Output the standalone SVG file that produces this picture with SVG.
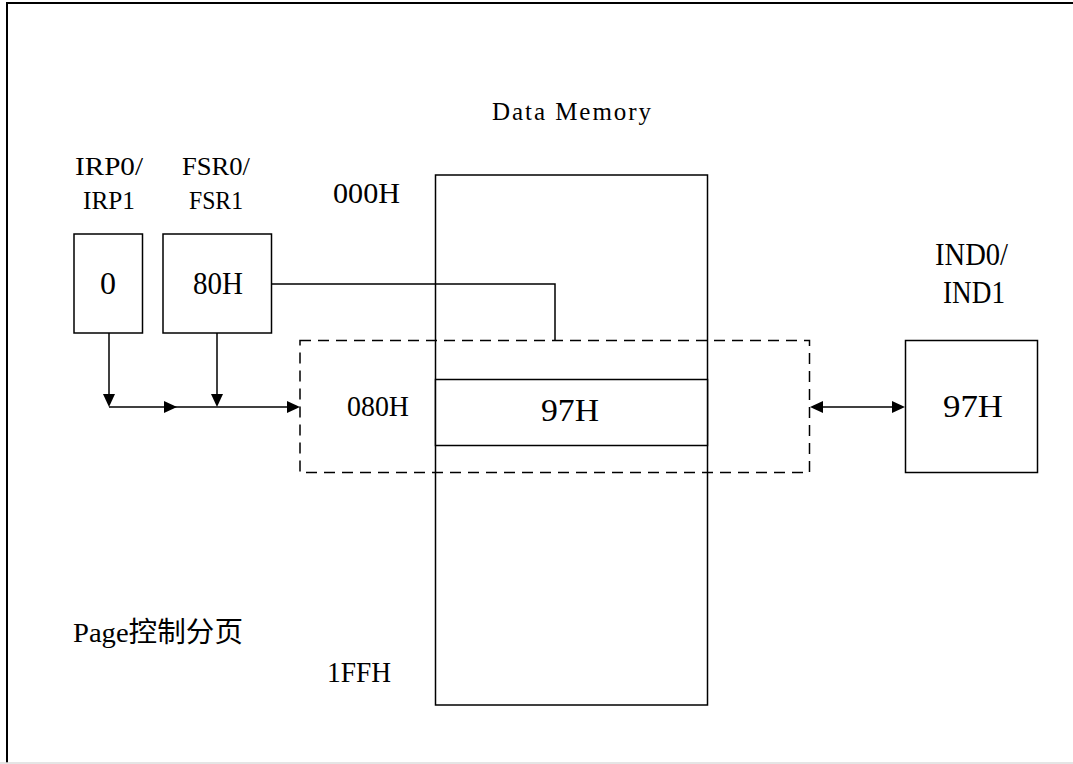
<svg xmlns="http://www.w3.org/2000/svg" width="1073" height="764" viewBox="0 0 1073 764">
<style>
.ln{stroke:#000;stroke-width:1.5;fill:none}
.box{stroke:#000;stroke-width:1.5;fill:#fff}
.dash{stroke:#000;stroke-width:1.5;fill:none;stroke-dasharray:11 7}
.ah{fill:#000}
.t{font-family:"Liberation Serif","Noto Sans CJK SC",serif;fill:#000}
.m{font-family:"Liberation Serif","Noto Sans CJK SC",serif;fill:#000}
</style>
<rect width="1073" height="764" fill="#fff"/>
<g id="frame">
<line x1="7" y1="2" x2="7" y2="763" stroke="#000" stroke-width="2"/>
<line x1="6" y1="3" x2="1073" y2="3" stroke="#000" stroke-width="2"/>
<line x1="0" y1="763" x2="1073" y2="763" stroke="#ddd" stroke-width="1.5"/>
</g>
<g id="title"><text class="m" x="492" y="120" font-size="25" textLength="159" lengthAdjust="spacing">Data Memory</text></g>
<g id="memory">
<rect class="box" x="435.5" y="175" width="272" height="530"/>
</g>
<g id="dashed-page">
<rect class="dash" x="300" y="340.5" width="509.5" height="132"/>
</g>
<g id="row-97H">
<rect class="box" x="435.5" y="379.5" width="272" height="66"/>
<text class="m" x="541" y="421" font-size="31" textLength="58" lengthAdjust="spacingAndGlyphs">97H</text>
</g>
<g id="irp">
<text class="m" x="75" y="175" font-size="26" textLength="68" lengthAdjust="spacingAndGlyphs">IRP0/</text>
<text class="m" x="83" y="209" font-size="26" textLength="52" lengthAdjust="spacingAndGlyphs">IRP1</text>
<rect class="box" x="74" y="234" width="68.5" height="99"/>
<text class="m" x="108" y="294" font-size="32" text-anchor="middle">0</text>
</g>
<g id="fsr">
<text class="m" x="182" y="175" font-size="26" textLength="68" lengthAdjust="spacingAndGlyphs">FSR0/</text>
<text class="m" x="189" y="209" font-size="26" textLength="54" lengthAdjust="spacingAndGlyphs">FSR1</text>
<rect class="box" x="163" y="234" width="108.5" height="99"/>
<text class="m" x="193" y="294" font-size="32" textLength="50" lengthAdjust="spacingAndGlyphs">80H</text>
</g>
<g id="ind">
<text class="m" x="935" y="265" font-size="31" textLength="73" lengthAdjust="spacingAndGlyphs">IND0/</text>
<text class="m" x="943" y="303" font-size="31" textLength="62" lengthAdjust="spacingAndGlyphs">IND1</text>
<rect class="box" x="905.5" y="340.5" width="132" height="132"/>
<text class="t" x="943" y="417" font-size="31" textLength="60" lengthAdjust="spacingAndGlyphs">97H</text>
</g>
<g id="labels">
<text class="t" x="333" y="203" font-size="29" textLength="67" lengthAdjust="spacingAndGlyphs">000H</text>
<text class="t" x="347" y="416" font-size="29" textLength="62" lengthAdjust="spacingAndGlyphs">080H</text>
<text class="t" x="327" y="682" font-size="29" textLength="64" lengthAdjust="spacingAndGlyphs">1FFH</text>
<text class="m" x="73" y="642" font-size="28" textLength="170" lengthAdjust="spacingAndGlyphs">Page控制分页</text>
</g>
<g id="connectors">
<polyline class="ln" points="271.5,284 555,284 555,340.5"/>
<line class="ln" x1="109" y1="333" x2="109" y2="395"/>
<polygon class="ah" points="103,394 115,394 109,407"/>
<line class="ln" x1="217" y1="333" x2="217" y2="395"/>
<polygon class="ah" points="211,394 223,394 217,407"/>
<line class="ln" x1="109" y1="407" x2="289" y2="407"/>
<polygon class="ah" points="164,401 164,413 177,407"/>
<polygon class="ah" points="287,401 287,413 300,407"/>
<line class="ln" x1="820" y1="407" x2="895" y2="407"/>
<polygon class="ah" points="810,407 823,401 823,413"/>
<polygon class="ah" points="905,407 892,401 892,413"/>
</g>
</svg>
